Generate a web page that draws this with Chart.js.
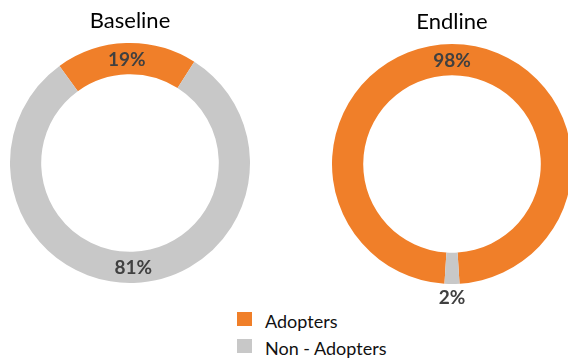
<!DOCTYPE html>
<html>
<head>
<meta charset="utf-8">
<script src="https://cdn.jsdelivr.net/npm/chart.js@4"></script>
<style>
  html, body { margin: 0; padding: 0; background: #fff; }
  body { width: 568px; height: 358px; position: relative; overflow: hidden; font-family: Lato, sans-serif; }
  .ring { position: absolute; }
  #legend { position: absolute; left: 237px; top: 312px; font-size: 18px; line-height: 18px; color: #111; }
  #legend .row { position: relative; height: 26.5px; white-space: nowrap; }
  #legend .box { position: absolute; left: 0; top: 0; width: 15px; height: 14px; }
  #legend .txt { position: absolute; left: 28px; top: 0; }
</style>
</head>
<body>
<div class="ring" style="left:10px; top:0px; width:240px; height:307px;"><canvas id="baseChart"></canvas></div>
<div class="ring" style="left:332px; top:1px; width:240px; height:307px;"><canvas id="endChart"></canvas></div>
<div id="legend"></div>

<script>
const groups = ['Baseline', 'Endline'];
const categories = ['Adopters', 'Non - Adopters'];
const baselineValues = [19, 81];
const endlineValues = [98, 2];
const sliceColors = ['#F07F29', '#C8C8C8'];

// percentage labels: middle of the ring, small slices pushed outside
const pctLabels = {
  id: 'pctLabels',
  afterDatasetsDraw(chart) {
    const ctx = chart.ctx;
    const values = chart.data.datasets[0].data;
    ctx.save();
    ctx.font = 'bold 19px Lato';
    ctx.fillStyle = '#404040';
    ctx.textAlign = 'center';
    ctx.textBaseline = 'middle';
    chart.getDatasetMeta(0).data.forEach((arc, i) => {
      const p = arc.getProps(['x', 'y', 'startAngle', 'endAngle', 'innerRadius', 'outerRadius'], true);
      const mid = (p.startAngle + p.endAngle) / 2;
      const r = values[i] < 5 ? p.outerRadius + 13 : (p.innerRadius + p.outerRadius) / 2;
      ctx.fillText(values[i] + '%', p.x + Math.cos(mid) * r, p.y + Math.sin(mid) * r + 1);
    });
    ctx.restore();
  }
};

function ring(id, title, values, rotation) {
  return new Chart(document.getElementById(id), {
    type: 'doughnut',
    data: {
      labels: categories,
      datasets: [{
        data: values,
        backgroundColor: sliceColors,
        borderWidth: 0
      }]
    },
    options: {
      responsive: true,
      maintainAspectRatio: false,
      animation: false,
      cutout: '74%',
      rotation: rotation,
      layout: { padding: { bottom: 24 } },
      plugins: {
        legend: { display: false },
        tooltip: { enabled: false },
        title: {
          display: true,
          text: title,
          color: '#000',
          font: { family: 'Lato', size: 22, weight: 'normal' },
          padding: { top: 8, bottom: 8.6 }
        }
      }
    },
    plugins: [pctLabels]
  });
}

function legend() {
  const el = document.getElementById('legend');
  categories.forEach((c, i) => {
    const row = document.createElement('div');
    row.className = 'row';
    row.innerHTML = '<span class="box" style="background:' + sliceColors[i] + '"></span><span class="txt">' + c + '</span>';
    el.appendChild(row);
  });
}

Promise.all([
  document.fonts.load('22px Lato'),
  document.fonts.load('bold 19px Lato')
]).catch(() => {}).then(() => {
  ring('baseChart', groups[0], baselineValues, -36);
  // keep the small slice centred at the bottom
  ring('endChart', groups[1], endlineValues, 180 + endlineValues[1] * 1.8);
  legend();
});
</script>
</body>
</html>
